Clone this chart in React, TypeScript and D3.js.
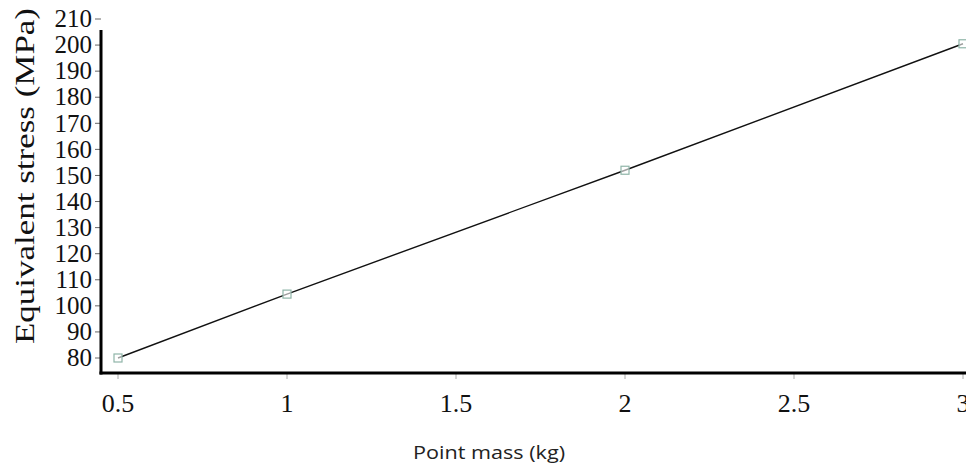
import React from "react";
import * as d3 from "d3";

const width = 966;
const height = 466;

const mass = [0.5, 1, 2, 3];
const stress = [80, 104.5, 152, 200.5];
const xTicks = [0.5, 1, 1.5, 2, 2.5, 3];
const yTicks = [80, 90, 100, 110, 120, 130, 140, 150, 160, 170, 180, 190, 200, 210];

const axisLeft = 101;
const axisBottom = 373;

const x = d3.scaleLinear().domain([0.5, 3]).range([118, 963]);
const y = d3.scaleLinear().domain([80, 210]).range([358, 19]);

const serif = "'Liberation Serif', 'Times New Roman', serif";

export default function App() {
  const points = mass.map((m, i) => [x(m), y(stress[i])] as [number, number]);
  const line = d3.line()(points) || "";

  return (
    <svg
      width={width}
      height={height}
      style={{ position: "absolute", left: 0, top: 0, background: "#fff" }}
    >
      {/* y ticks + labels */}
      {yTicks.map(t => (
        <g key={t}>
          <line x1={axisLeft - 6} x2={axisLeft} y1={y(t)} y2={y(t)} stroke="#666" strokeWidth={1} />
          <text
            x={92}
            y={y(t)}
            dy="0.33em"
            textAnchor="end"
            fontFamily={serif}
            fontSize={25}
            fill="#111"
          >
            {t}
          </text>
        </g>
      ))}

      {/* x ticks + labels */}
      {xTicks.map(t => (
        <g key={t}>
          <line x1={x(t)} x2={x(t)} y1={axisBottom} y2={axisBottom + 6} stroke="#aaa" strokeWidth={1} />
          <text
            x={x(t)}
            y={412}
            textAnchor="middle"
            fontFamily={serif}
            fontSize={26}
            fill="#111"
          >
            {t}
          </text>
        </g>
      ))}

      {/* axes */}
      <line x1={axisLeft} x2={axisLeft} y1={30} y2={axisBottom + 1.5} stroke="#000" strokeWidth={3} />
      <line x1={axisLeft - 1.5} x2={width} y1={axisBottom} y2={axisBottom} stroke="#000" strokeWidth={3} />

      {/* series */}
      <path d={line} fill="none" stroke="#111" strokeWidth={1.4} />
      {points.map(([px, py], i) => (
        <rect
          key={i}
          x={px - 4}
          y={py - 4}
          width={8}
          height={8}
          fill="#fff"
          fillOpacity={0.6}
          stroke="#8fb5a8"
          strokeWidth={1.2}
        />
      ))}

      {/* titles */}
      <text
        transform={`translate(34,176) rotate(-90)`}
        textAnchor="middle"
        fontFamily={serif}
        fontSize={28}
        textLength={336}
        lengthAdjust="spacingAndGlyphs"
        fill="#111"
      >
        Equivalent stress (MPa)
      </text>
      <text
        x={489}
        y={459}
        textAnchor="middle"
        fontFamily="'Open Sans', 'Noto Sans', sans-serif"
        fontSize={19}
        textLength={152}
        lengthAdjust="spacingAndGlyphs"
        fill="#222"
      >
        Point mass (kg)
      </text>
    </svg>
  );
}
